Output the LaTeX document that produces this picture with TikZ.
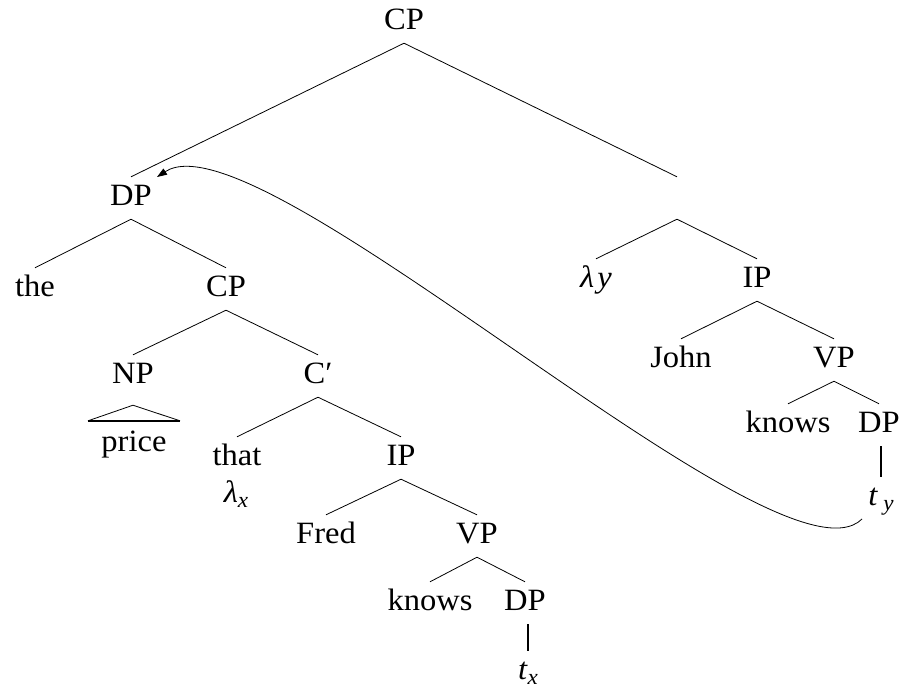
\documentclass[tikz,border=0pt]{standalone}
\usepackage{fontspec}
\setmainfont{Liberation Serif}[FakeStretch=1.05]
\usetikzlibrary{arrows.meta,calc}

% lowered italic index for traces and lambdas
\newcommand{\lowsub}[1]{\raisebox{-5pt}{\fontsize{22pt}{22pt}\selectfont\itshape #1}}

\begin{document}
\begin{tikzpicture}[x=1pt,y=-1pt,
  every node/.style={font=\fontsize{31pt}{37pt}\selectfont},
  lbl/.style={anchor=base, inner sep=0pt, text height=28pt, text depth=14pt},
  branch/.style={line width=0.8pt},
  bar/.style={line width=1.6pt},
  move/.style={line width=0.8pt, -{Triangle[length=10pt,width=7pt]}}]

\useasboundingbox (0,0) rectangle (903,689);

% labels, placed on their baselines
\node[lbl] (cp0)    at (404,29)  {CP};
\node[lbl] (dp1)    at (131,205) {DP};
\node[lbl] (e1)     at (677,205) {};
\node[lbl] (the)    at (35,296)  {the};
\node[lbl] (cp2)    at (226,296) {CP};
\node[lbl] (ly)     at (596,287) {\textit{λ\hspace{3pt}y}};
\node[lbl] (ip1)    at (757,287) {IP};
\node[lbl] (np)     at (133,383) {NP};
\node[lbl] (cbar)   at (318,383) {C′};
\node[lbl] (john)   at (681,367) {John};
\node[lbl] (vp1)    at (834,367) {VP};
\node[lbl] (price)  at (134,451) {price};
\node[lbl] (that)   at (237,465) {that};
\node[lbl] (lx)     at (236,502) {\textit{λ}\lowsub{x}};
\node[lbl] (ip2)    at (401,465) {IP};
\node[lbl] (knows1) at (788,432) {knows};
\node[lbl] (dp2)    at (879,432) {DP};
\node[lbl] (ty)     at (881,505) {\textit{t}\,\lowsub{y}};
\node[lbl] (fred)   at (326,543) {Fred};
\node[lbl] (vp2)    at (477,543) {VP};
\node[lbl] (knows2) at (430,610) {knows};
\node[lbl] (dp3)    at (525,610) {DP};
\node[lbl] (tx)     at (528,679) {\textit{t}\lowsub{x}};

% branches
\draw[branch] (cp0.south) -- (dp1.north);
\draw[branch] (cp0.south) -- (e1.north);
\draw[branch] (dp1.south) -- (the.north);
\draw[branch] (dp1.south) -- (cp2.north);
\draw[branch] (e1.south) -- (ly.north);
\draw[branch] (e1.south) -- (ip1.north);
\draw[branch] (cp2.south) -- (np.north);
\draw[branch] (cp2.south) -- (cbar.north);
\draw[branch] (ip1.south) -- (john.north);
\draw[branch] (ip1.south) -- (vp1.north);
\draw[branch] (cbar.south) -- (that.north);
\draw[branch] (cbar.south) -- (ip2.north);
\draw[branch] (vp1.south) -- (knows1.north);
\draw[branch] (vp1.south) -- (dp2.north);
\draw[branch] (ip2.south) -- (fred.north);
\draw[branch] (ip2.south) -- (vp2.north);
\draw[branch] (vp2.south) -- (knows2.north);
\draw[branch] (vp2.south) -- (dp3.north);

% roof over "price"
\coordinate (roofL) at ($(price.north)+(-46,-2)$);
\coordinate (roofR) at ($(price.north)+(46,-2)$);
\coordinate (roofT) at ($(np.south)+(0,8)$);
\draw[branch] (roofL) -- (roofT) -- (roofR);
\draw[bar] (roofL) -- (roofR);

% unary bars to the traces
\draw[bar] (dp2.south -| ty.north) -- (ty.north);
\draw[bar] (dp3.south -| tx.north) -- (tx.north);

% movement arrow from the trace back to the DP
\coordinate (mvstart) at (862,519);
\coordinate (mvend)   at (157,177);
\draw[move] (mvstart) .. controls (780,600) and (260,110) .. (mvend);
\end{tikzpicture}
\end{document}
